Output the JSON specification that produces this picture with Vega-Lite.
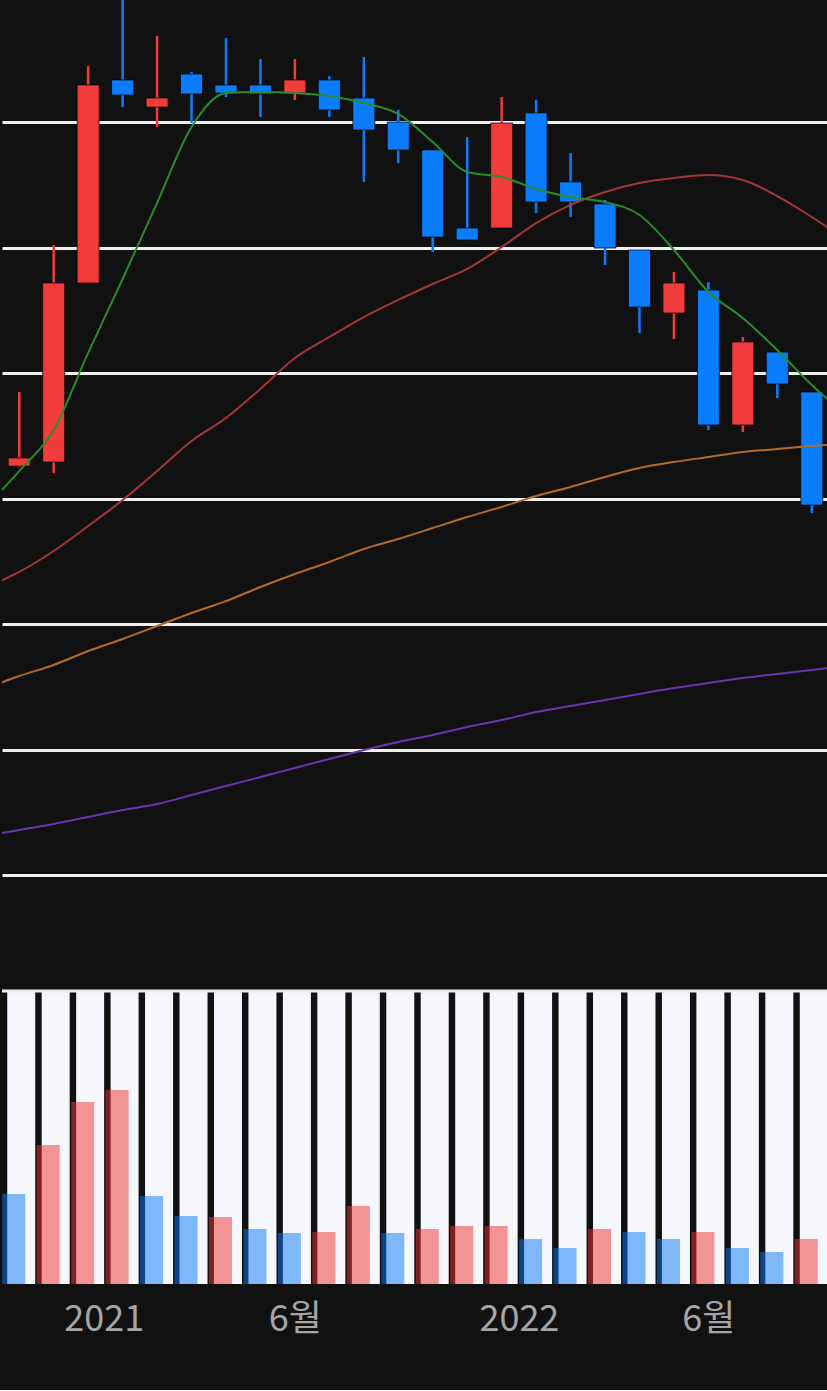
{
  "$schema": "https://vega.github.io/schema/vega-lite/v6.json",
  "background": "#111111",
  "padding": {"left": 0, "top": 0, "right": 0, "bottom": 53},
  "spacing": 0,
  "config": {"view": {"stroke": null}, "concat": {"spacing": 0}},
  "datasets": {
    "bars": [
      {"i": 0, "month": "2020-10", "open": 42590, "high": 48490, "low": 42510, "close": 43230, "volume": 900000, "vdir": "down"},
      {"i": 1, "month": "2020-11", "open": 42910, "high": 60200, "low": 42030, "close": 57170, "volume": 1390000, "vdir": "up"},
      {"i": 2, "month": "2020-12", "open": 57170, "high": 74460, "low": 57170, "close": 72950, "volume": 1820000, "vdir": "up"},
      {"i": 3, "month": "2021-01", "open": 73350, "high": 80520, "low": 71190, "close": 72150, "volume": 1940000, "vdir": "up"},
      {"i": 4, "month": "2021-02", "open": 71190, "high": 76850, "low": 69600, "close": 71910, "volume": 880000, "vdir": "down"},
      {"i": 5, "month": "2021-03", "open": 73820, "high": 73980, "low": 69920, "close": 72230, "volume": 680000, "vdir": "down"},
      {"i": 6, "month": "2021-04", "open": 72950, "high": 76690, "low": 71990, "close": 72310, "volume": 670000, "vdir": "up"},
      {"i": 7, "month": "2021-05", "open": 72950, "high": 75020, "low": 70400, "close": 72230, "volume": 550000, "vdir": "down"},
      {"i": 8, "month": "2021-06", "open": 72310, "high": 75020, "low": 71750, "close": 73350, "volume": 510000, "vdir": "down"},
      {"i": 9, "month": "2021-07", "open": 73350, "high": 73660, "low": 70400, "close": 70960, "volume": 520000, "vdir": "up"},
      {"i": 10, "month": "2021-08", "open": 71910, "high": 75180, "low": 65220, "close": 69360, "volume": 780000, "vdir": "up"},
      {"i": 11, "month": "2021-09", "open": 70000, "high": 70960, "low": 66730, "close": 67770, "volume": 510000, "vdir": "down"},
      {"i": 12, "month": "2021-10", "open": 67770, "high": 67770, "low": 59640, "close": 60840, "volume": 550000, "vdir": "up"},
      {"i": 13, "month": "2021-11", "open": 61550, "high": 68800, "low": 60600, "close": 60600, "volume": 580000, "vdir": "up"},
      {"i": 14, "month": "2021-12", "open": 61550, "high": 71990, "low": 61550, "close": 69920, "volume": 580000, "vdir": "up"},
      {"i": 15, "month": "2022-01", "open": 70720, "high": 71750, "low": 62750, "close": 63630, "volume": 450000, "vdir": "down"},
      {"i": 16, "month": "2022-02", "open": 65220, "high": 67530, "low": 62430, "close": 63630, "volume": 360000, "vdir": "down"},
      {"i": 17, "month": "2022-03", "open": 63470, "high": 63790, "low": 58610, "close": 59960, "volume": 550000, "vdir": "up"},
      {"i": 18, "month": "2022-04", "open": 59800, "high": 59800, "low": 53190, "close": 55260, "volume": 520000, "vdir": "down"},
      {"i": 19, "month": "2022-05", "open": 54780, "high": 58050, "low": 52710, "close": 57170, "volume": 450000, "vdir": "down"},
      {"i": 20, "month": "2022-06", "open": 56610, "high": 57250, "low": 45460, "close": 45860, "volume": 520000, "vdir": "up"},
      {"i": 21, "month": "2022-07", "open": 45860, "high": 52870, "low": 45300, "close": 52470, "volume": 360000, "vdir": "down"},
      {"i": 22, "month": "2022-08", "open": 51670, "high": 51670, "low": 48010, "close": 49130, "volume": 320000, "vdir": "down"},
      {"i": 23, "month": "2022-09", "open": 48490, "high": 48490, "low": 38850, "close": 39480, "volume": 450000, "vdir": "up"}
    ],
    "ma": [
      {"i": -1, "ma": "MA120", "v": 13110}, {"i": 0, "ma": "MA120", "v": 13590}, {"i": 1, "ma": "MA120", "v": 14070}, {"i": 2, "ma": "MA120", "v": 14630}, {"i": 3, "ma": "MA120", "v": 15180}, {"i": 4, "ma": "MA120", "v": 15660}, {"i": 5, "ma": "MA120", "v": 16380}, {"i": 6, "ma": "MA120", "v": 17100}, {"i": 7, "ma": "MA120", "v": 17810}, {"i": 8, "ma": "MA120", "v": 18530}, {"i": 9, "ma": "MA120", "v": 19250}, {"i": 10, "ma": "MA120", "v": 19960}, {"i": 11, "ma": "MA120", "v": 20600}, {"i": 12, "ma": "MA120", "v": 21160}, {"i": 13, "ma": "MA120", "v": 21800}, {"i": 14, "ma": "MA120", "v": 22350}, {"i": 15, "ma": "MA120", "v": 22990}, {"i": 16, "ma": "MA120", "v": 23470}, {"i": 17, "ma": "MA120", "v": 23950}, {"i": 18, "ma": "MA120", "v": 24430}, {"i": 19, "ma": "MA120", "v": 24900}, {"i": 20, "ma": "MA120", "v": 25300}, {"i": 21, "ma": "MA120", "v": 25700}, {"i": 22, "ma": "MA120", "v": 26020}, {"i": 23, "ma": "MA120", "v": 26340}, {"i": 24, "ma": "MA120", "v": 26660},
      {"i": -1, "ma": "MA60", "v": 24820}, {"i": 0, "ma": "MA60", "v": 25860}, {"i": 1, "ma": "MA60", "v": 26740}, {"i": 2, "ma": "MA60", "v": 27850}, {"i": 3, "ma": "MA60", "v": 28810}, {"i": 4, "ma": "MA60", "v": 29840}, {"i": 5, "ma": "MA60", "v": 30880}, {"i": 6, "ma": "MA60", "v": 31830}, {"i": 7, "ma": "MA60", "v": 32950}, {"i": 8, "ma": "MA60", "v": 33990}, {"i": 9, "ma": "MA60", "v": 34940}, {"i": 10, "ma": "MA60", "v": 35980}, {"i": 11, "ma": "MA60", "v": 36780}, {"i": 12, "ma": "MA60", "v": 37650}, {"i": 13, "ma": "MA60", "v": 38530}, {"i": 14, "ma": "MA60", "v": 39330}, {"i": 15, "ma": "MA60", "v": 40200}, {"i": 16, "ma": "MA60", "v": 40920}, {"i": 17, "ma": "MA60", "v": 41720}, {"i": 18, "ma": "MA60", "v": 42430}, {"i": 19, "ma": "MA60", "v": 42910}, {"i": 20, "ma": "MA60", "v": 43310}, {"i": 21, "ma": "MA60", "v": 43710}, {"i": 22, "ma": "MA60", "v": 43950}, {"i": 23, "ma": "MA60", "v": 44190}, {"i": 24, "ma": "MA60", "v": 44340},
      {"i": -1, "ma": "MA20", "v": 32870}, {"i": 0, "ma": "MA20", "v": 34150}, {"i": 1, "ma": "MA20", "v": 35820}, {"i": 2, "ma": "MA20", "v": 37810}, {"i": 3, "ma": "MA20", "v": 39880}, {"i": 4, "ma": "MA20", "v": 42190}, {"i": 5, "ma": "MA20", "v": 44580}, {"i": 6, "ma": "MA20", "v": 46420}, {"i": 7, "ma": "MA20", "v": 48730}, {"i": 8, "ma": "MA20", "v": 51200}, {"i": 9, "ma": "MA20", "v": 52870}, {"i": 10, "ma": "MA20", "v": 54460}, {"i": 11, "ma": "MA20", "v": 55820}, {"i": 12, "ma": "MA20", "v": 57090}, {"i": 13, "ma": "MA20", "v": 58290}, {"i": 14, "ma": "MA20", "v": 60040}, {"i": 15, "ma": "MA20", "v": 61950}, {"i": 16, "ma": "MA20", "v": 63390}, {"i": 17, "ma": "MA20", "v": 64420}, {"i": 18, "ma": "MA20", "v": 65140}, {"i": 19, "ma": "MA20", "v": 65540}, {"i": 20, "ma": "MA20", "v": 65780}, {"i": 21, "ma": "MA20", "v": 65380}, {"i": 22, "ma": "MA20", "v": 64100}, {"i": 23, "ma": "MA20", "v": 62430}, {"i": 24, "ma": "MA20", "v": 60600},
      {"i": -1, "ma": "MA5", "v": 39250}, {"i": 0, "ma": "MA5", "v": 42190}, {"i": 1, "ma": "MA5", "v": 45460}, {"i": 2, "ma": "MA5", "v": 51600}, {"i": 3, "ma": "MA5", "v": 57490}, {"i": 4, "ma": "MA5", "v": 63550}, {"i": 5, "ma": "MA5", "v": 69600}, {"i": 6, "ma": "MA5", "v": 72310}, {"i": 7, "ma": "MA5", "v": 72390}, {"i": 8, "ma": "MA5", "v": 72310}, {"i": 9, "ma": "MA5", "v": 72070}, {"i": 10, "ma": "MA5", "v": 71510}, {"i": 11, "ma": "MA5", "v": 70640}, {"i": 12, "ma": "MA5", "v": 68410}, {"i": 13, "ma": "MA5", "v": 66020}, {"i": 14, "ma": "MA5", "v": 65620}, {"i": 15, "ma": "MA5", "v": 64660}, {"i": 16, "ma": "MA5", "v": 64020}, {"i": 17, "ma": "MA5", "v": 63630}, {"i": 18, "ma": "MA5", "v": 62590}, {"i": 19, "ma": "MA5", "v": 59800}, {"i": 20, "ma": "MA5", "v": 56460}, {"i": 21, "ma": "MA5", "v": 54380}, {"i": 22, "ma": "MA5", "v": 51830}, {"i": 23, "ma": "MA5", "v": 49050}, {"i": 24, "ma": "MA5", "v": 46660}
    ]
  },
  "vconcat": [
    {
      "width": 827,
      "height": 989,
      "view": {"fill": "#111111", "stroke": null},
      "layer": [
        {
          "data": {"name": "bars"},
          "mark": {"type": "rule", "strokeWidth": 2.5, "clip": true},
          "encoding": {
            "x": {"field": "i", "type": "quantitative", "scale": {"domain": [-0.5, 23.5], "nice": false, "zero": false, "padding": 0}, "axis": null},
            "y": {"field": "low", "type": "quantitative", "scale": {"domain": [922, 79720], "nice": false, "zero": false, "padding": 0},
                  "axis": {"values": [10000, 20000, 30000, 40000, 50000, 60000, 70000], "grid": true, "gridColor": "#f0f0f0", "gridWidth": 3, "gridOpacity": 1, "labels": false, "ticks": false, "domain": false, "title": null, "minExtent": 0}},
            "y2": {"field": "high"},
            "color": {"condition": {"test": "datum.close >= datum.open", "value": "#f23c3c"}, "value": "#0b7dfc"}
          }
        },
        {
          "data": {"name": "bars"},
          "mark": {"type": "bar", "width": 22, "stroke": "#000000", "strokeWidth": 1, "strokeOpacity": 0.7, "clip": true},
          "encoding": {
            "x": {"field": "i", "type": "quantitative"},
            "y": {"field": "open", "type": "quantitative"},
            "y2": {"field": "close"},
            "color": {"condition": {"test": "datum.close >= datum.open", "value": "#f23c3c"}, "value": "#0b7dfc"}
          }
        },
        {
          "data": {"name": "ma"},
          "mark": {"type": "line", "strokeWidth": 2, "interpolate": "monotone", "clip": true},
          "encoding": {
            "x": {"field": "i", "type": "quantitative"},
            "y": {"field": "v", "type": "quantitative"},
            "color": {"field": "ma", "type": "nominal", "scale": {"domain": ["MA5", "MA20", "MA60", "MA120"], "range": ["#2a8c2a", "#a63636", "#b46a2a", "#6a34b0"]}, "legend": null},
            "order": {"field": "i", "type": "quantitative"}
          }
        }
      ]
    },
    {
      "width": 827,
      "height": 293,
      "view": {"fill": "#111111", "stroke": null},
      "layer": [
        {
          "data": {"name": "bars"},
          "mark": {"type": "bar", "width": 28, "xOffset": 2, "color": "#f5f7fc"},
          "encoding": {
            "x": {"field": "i", "type": "quantitative", "scale": {"domain": [-0.5, 23.5], "nice": false, "zero": false, "padding": 0},
                  "axis": {"values": [2.45, 8, 14.5, 20], "labelExpr": "datum.value < 3 ? '2021' : datum.value > 14 && datum.value < 15 ? '2022' : '6월'", "labelFont": "Noto Sans CJK KR", "labelFontSize": 36, "labelColor": "#a6a6a6", "labelPadding": 18, "labelFlush": false, "labelOverlap": false, "ticks": false, "domain": false, "grid": false, "title": null}},
            "y": {"datum": 2930000, "type": "quantitative", "scale": {"domain": [0, 2930000], "nice": false, "padding": 0}, "axis": null},
            "y2": {"datum": 0}
          }
        },
        {
          "data": {"values": [{}]},
          "mark": {"type": "rule", "color": "#eceef3", "strokeWidth": 3},
          "encoding": {"y": {"datum": 2930000, "type": "quantitative"}}
        },
        {
          "data": {"name": "bars"},
          "mark": {"type": "bar", "width": 23, "xOffset": -5.5, "opacity": 0.5},
          "encoding": {
            "x": {"field": "i", "type": "quantitative"},
            "y": {"field": "volume", "type": "quantitative"},
            "color": {"condition": {"test": "datum.vdir == 'up'", "value": "#ef3030"}, "value": "#0a78f5"}
          }
        }
      ]
    }
  ]
}
